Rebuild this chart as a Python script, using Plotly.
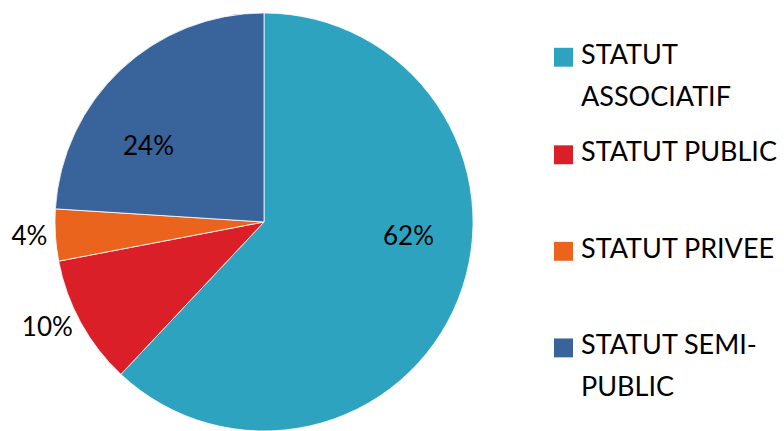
import plotly.graph_objects as go

categories = ["STATUT ASSOCIATIF", "STATUT PUBLIC", "STATUT PRIVEE", "STATUT SEMI-PUBLIC"]
shares = [62, 10, 4, 24]
colors = ["#2EA3C0", "#DA1F29", "#EB641E", "#39649B"]
legend_lines = [["STATUT", "ASSOCIATIF"], ["STATUT PUBLIC"], ["STATUT PRIVEE"], ["STATUT SEMI-", "PUBLIC"]]

W, H = 784, 436   # a few px taller than the 431px window: the pie's bottom edge is clipped as in the reference
FONT = "Lato, 'Open Sans', sans-serif"

# pie geometry (pixels from top-left)
CX, CY, R = 264, 223, 210

# slices whose percentage sits inside the slice (placed "best fit" like the reference)
inside_label_px = {0: (408, 236), 3: (148, 146)}

texttemplates = ["" if i in inside_label_px else "%{percent:.0%}" for i in range(len(shares))]

fig = go.Figure(go.Pie(
    labels=categories,
    values=shares,
    sort=False,
    direction="clockwise",
    rotation=0,
    marker=dict(colors=colors, line=dict(color="white", width=0.8)),
    texttemplate=texttemplates,
    textposition="outside",
    textfont=dict(family=FONT, size=26, color="black"),
    domain=dict(x=[(CX - R) / W, (CX + R) / W],
                y=[1 - (CY + R) / H, 1 - (CY - R) / H]),
    showlegend=False,
    hoverinfo="label+percent",
))

annotations = []
total = sum(shares)
for i, (px, py) in inside_label_px.items():
    annotations.append(dict(text=f"{round(100 * shares[i] / total)}%", xref="paper", yref="paper",
                            x=px / W, y=1 - py / H, xanchor="center", yanchor="middle",
                            showarrow=False, font=dict(family=FONT, size=26, color="black")))

# custom legend (squares + wrapped text)
row_tops = [48, 146, 243, 340]
SQ = 19
SQ_X0 = 554
TXT_X = 579
LINE_GAP = 42
shapes = []
for top, col, lines in zip(row_tops, colors, legend_lines):
    shapes.append(dict(type="rect", xref="paper", yref="paper",
                       x0=SQ_X0 / W, x1=(SQ_X0 + SQ) / W,
                       y0=1 - (top + SQ) / H, y1=1 - top / H,
                       fillcolor=col, line=dict(width=0)))
    for i, line in enumerate(lines):
        yc = top + 5.5 + i * LINE_GAP
        annotations.append(dict(text=line, xref="paper", yref="paper",
                                x=TXT_X / W, y=1 - yc / H,
                                xanchor="left", yanchor="middle", showarrow=False,
                                font=dict(family=FONT, size=27, color="black")))

fig.update_layout(
    width=W, height=H,
    margin=dict(l=0, r=0, t=0, b=0),
    paper_bgcolor="white",
    plot_bgcolor="white",
    shapes=shapes,
    annotations=annotations,
    font=dict(family=FONT),
)

fig.write_html("out.html", config={"displayModeBar": False},
               post_script="document.body.style.margin='0';document.body.style.overflow='hidden';")
